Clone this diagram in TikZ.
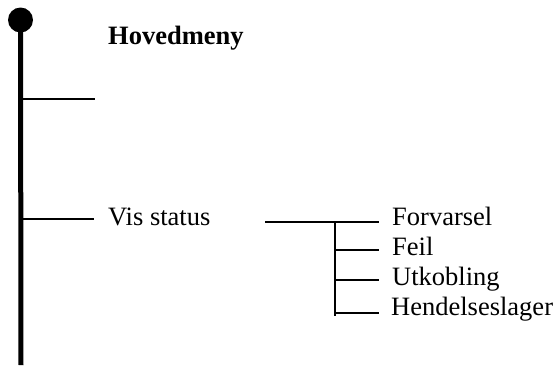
\documentclass[tikz,border=0pt]{standalone}
\usepackage{fontspec}
\setmainfont{Liberation Serif}
\begin{document}
\begin{tikzpicture}[x=1pt,y=-1pt,
  lbl/.style={anchor=base west,inner sep=0pt,font=\fontsize{26.5}{30}\selectfont},
  thin line/.style={line width=1.3pt},
  spine/.style={line width=5pt}]
\useasboundingbox (0,0) rectangle (555,365);
% main spine
\node[circle,fill=black,minimum size=25pt,inner sep=0pt] (dot) at (20.5,20) {};
\coordinate (bottom) at (21,365);
\draw[spine] (dot.center) -- (bottom);
% labels
\node[lbl,font=\fontsize{26.5}{30}\selectfont\bfseries] (hm) at (108,44) {Hovedmeny};
\node[lbl] (vs) at (108,225) {Vis status};
\node[lbl] (fv) at (392,225) {Forvarsel};
\node[lbl] (fe) at (392,255) {Feil};
\node[lbl] (ut) at (392,285) {Utkobling};
\node[lbl] (he) at (391,315) {Hendelseslager};
% first-level branches
\coordinate (b1s) at (23,99);
\coordinate (b1e) at (95,99);
\draw[thin line] (b1s) -- (b1e);
\coordinate (b2s) at (23,219);
\draw[thin line] (b2s) -- ([xshift=-14pt,yshift=6pt]vs.base west);
% second-level
\coordinate (s0) at (265,222);
\draw[thin line] (s0) -- ([xshift=-13pt,yshift=3pt]fv.base west);
\coordinate (vtop) at (335,223);
\coordinate (vbot) at (335,316);
\draw[thin line] (vtop) -- (vbot);
\draw[thin line] (335,250) -- ([xshift=-13pt,yshift=5pt]fe.base west);
\draw[thin line] (335,280) -- ([xshift=-13pt,yshift=5pt]ut.base west);
\draw[thin line] (335,313) -- ([xshift=-12pt,yshift=2pt]he.base west);
\end{tikzpicture}
\end{document}
